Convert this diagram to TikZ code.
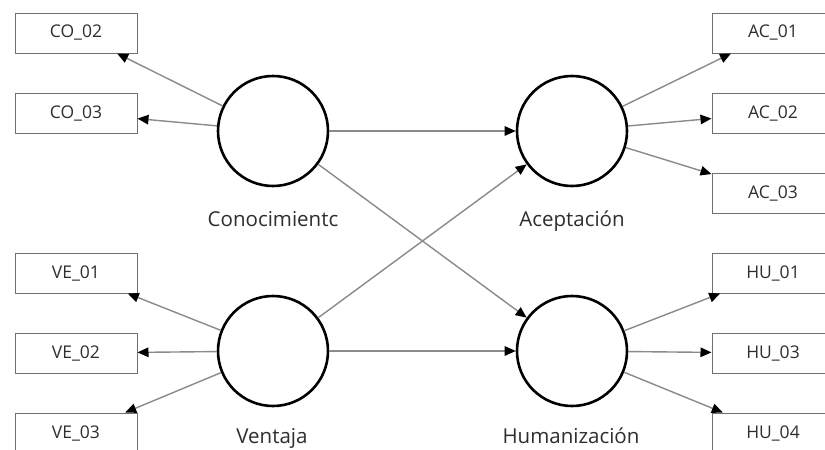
\documentclass[tikz,border=0pt]{standalone}
\usepackage{fontspec}
\setmainfont{Open Sans}
\usetikzlibrary{arrows.meta}
\definecolor{txt}{HTML}{2E2E2E}
\definecolor{edge}{HTML}{8A8A8A}
\definecolor{boxline}{HTML}{707070}
\begin{document}
\begin{tikzpicture}[x=1pt,y=-1pt,
  latent/.style={circle,draw=black,line width=2.6pt,minimum size=110pt,inner sep=0pt,fill=white},
  ind/.style={rectangle,draw=boxline,line width=1pt,minimum width=122pt,minimum height=40pt,inner sep=0pt,fill=white,text=txt,font=\fontsize{17.5}{20}\selectfont},
  lbl/.style={anchor=base,text=txt,font=\fontsize{20.5}{24}\selectfont,inner sep=0pt},
  arr/.style={draw=edge,line width=1.4pt,-{Triangle[length=11pt,width=9.5pt,color=black]}}
]
\useasboundingbox (0,0) rectangle (825,450);
\clip (0,0) rectangle (825,450);
\fill[white] (0,0) rectangle (825,450);

% indicator boxes
\node[ind] (co2) at (76,33) {CO\_02};
\node[ind] (co3) at (76,113) {CO\_03};
\node[ind] (ve1) at (76,273) {VE\_01};
\node[ind] (ve2) at (76,353) {VE\_02};
\node[ind] (ve3) at (76,433) {VE\_03};
\node[ind] (ac1) at (773,33) {AC\_01};
\node[ind] (ac2) at (773,113) {AC\_02};
\node[ind] (ac3) at (773,193) {AC\_03};
\node[ind] (hu1) at (773,273) {HU\_01};
\node[ind] (hu3) at (773,353) {HU\_03};
\node[ind] (hu4) at (773,433) {HU\_04};

% latent variables
\node[latent] (co) at (273,131) {};
\node[latent] (ac) at (572,131) {};
\node[latent] (ve) at (273,351) {};
\node[latent] (hu) at (572,351) {};

% labels
\node[lbl] (lco) at (273,226) {Conocimientc};
\node[lbl] (lac) at (572,226) {Aceptación};
\node[lbl] (lve) at (272,443) {Ventaja};
\node[lbl] (lhu) at (571,443) {Humanización};

% measurement arrows
\draw[arr] (co) -- (co2);
\draw[arr] (co) -- (co3);
\draw[arr] (ve) -- (ve1);
\draw[arr] (ve) -- (ve2);
\draw[arr] (ve) -- (ve3);
\draw[arr] (ac) -- (ac1);
\draw[arr] (ac) -- (ac2);
\draw[arr] (ac) -- (ac3);
\draw[arr] (hu) -- (hu1);
\draw[arr] (hu) -- (hu3);
\draw[arr] (hu) -- (hu4);

% structural arrows
\draw[arr] (co) -- (ac);
\draw[arr] (co) -- (hu);
\draw[arr] (ve) -- (ac);
\draw[arr] (ve) -- (hu);
\end{tikzpicture}
\end{document}
